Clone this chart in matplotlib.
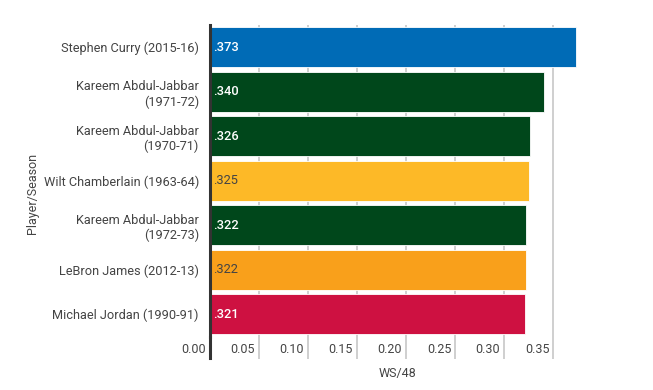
import matplotlib.pyplot as plt
from matplotlib import transforms

plt.rcParams['font.family'] = ['Roboto', 'DejaVu Sans']

players = ['Stephen Curry (2015-16)', 'Kareem Abdul-Jabbar\n(1971-72)', 'Kareem Abdul-Jabbar\n(1970-71)',
           'Wilt Chamberlain (1963-64)', 'Kareem Abdul-Jabbar\n(1972-73)', 'LeBron James (2012-13)',
           'Michael Jordan (1990-91)']
ws48 = [0.373, 0.340, 0.326, 0.325, 0.322, 0.322, 0.321]
bar_colors = ['#006bb6', '#00471b', '#00471b', '#fdb927', '#00471b', '#f9a01b', '#ce1141']
text_colors = ['white', 'white', 'white', '#444444', 'white', '#444444', 'white']
xticks = [0.00, 0.05, 0.10, 0.15, 0.20, 0.25, 0.30, 0.35]

fig = plt.figure(figsize=(6.53, 3.9), dpi=100)
ax = fig.add_axes([210 / 653, 1 - 336.5 / 390, (577 - 210) / 653, (336.5 - 25) / 390])

ypos = list(range(len(players)))
ax.barh(ypos, ws48, height=0.89, color=bar_colors, edgecolor='white', linewidth=0.6, zorder=2)
for y, v, tc in zip(ypos, ws48, text_colors):
    weight = 'medium' if tc == 'white' else 'normal'
    ax.text(0.0028, y, ('%.3f' % v)[1:], color=tc, fontsize=9.3, fontweight=weight,
            va='center', ha='left', zorder=3)

ax.set_ylim(len(players) - 0.5, -0.5)
ax.set_xlim(0, 0.374)
ax.set_yticks(ypos)
ax.set_yticklabels(players, fontsize=9.2, color='#444444')
ax.set_xticks(xticks)
ax.set_xticklabels(['%.2f' % t for t in xticks], fontsize=9, color='#444444')

ax.grid(axis='x', color='#cccccc', linewidth=1.3, zorder=0)
ax.tick_params(axis='y', length=0, pad=8)
ax.tick_params(axis='x', length=16, width=1.3, color='#cccccc', pad=-11)
offset = transforms.ScaledTranslation(-3 / 72, 0, fig.dpi_scale_trans)
for lab in ax.get_xticklabels():
    lab.set_horizontalalignment('right')
    lab.set_transform(lab.get_transform() + offset)

for s in ['top', 'right', 'bottom']:
    ax.spines[s].set_visible(False)
ax.spines['left'].set_color('#333333')
ax.spines['left'].set_linewidth(2.2)
ax.spines['left'].set_bounds(-0.5, 6.5)
ax.spines['left'].set_zorder(4)
# extend the spine down past the axis like the tick marks
ax.plot([0, 0], [6.5, 6.5 + 21.5 / 44.5], color='#333333', linewidth=2.2, clip_on=False, zorder=4)

ax.set_xlabel('WS/48', fontsize=9, color='#444444', labelpad=6)
ax.set_ylabel('Player/Season', fontsize=9, color='#444444', labelpad=3)
ax.xaxis.label.set_x(0.512)
ax.yaxis.label.set_y(0.46)

fig.savefig('out.png', dpi=100)
